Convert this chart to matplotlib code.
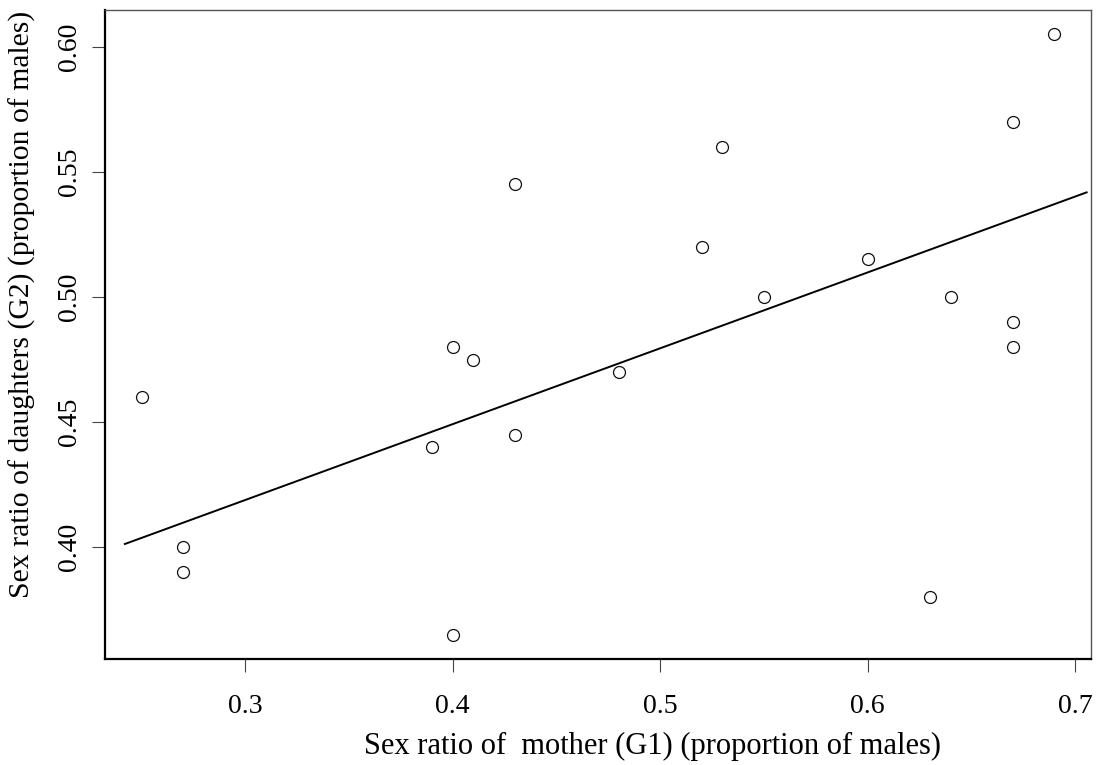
import matplotlib
matplotlib.use("Agg")
import matplotlib.pyplot as plt
import numpy as np

# values
mother_ratio = [0.25, 0.27, 0.27, 0.39, 0.40, 0.40, 0.41, 0.43, 0.43, 0.48,
                0.52, 0.53, 0.55, 0.60, 0.63, 0.64, 0.67, 0.67, 0.67, 0.69]
daughter_ratio = [0.46, 0.40, 0.39, 0.44, 0.48, 0.365, 0.475, 0.545, 0.445, 0.47,
                  0.52, 0.56, 0.50, 0.515, 0.38, 0.50, 0.57, 0.49, 0.48, 0.605]

# fitted line as drawn in the figure
fit_intercept = 0.328
fit_slope = 0.303
fit_range = [0.242, 0.7055]

x_ticks = [0.3, 0.4, 0.5, 0.6, 0.7]
y_ticks = [0.40, 0.45, 0.50, 0.55, 0.60]

plt.rcParams['font.family'] = ['Liberation Serif', 'DejaVu Serif']

fig = plt.figure(figsize=(10.97, 7.65), dpi=100)
ax = fig.add_axes([0.0957, 0.1386, 0.8988, 0.8483])

ax.plot(mother_ratio, daughter_ratio, 'o', ms=8.6, mfc='white', mec='#111111', mew=0.9)

fx = np.array(fit_range)
ax.plot(fx, fit_intercept + fit_slope * fx, color='black', lw=1.4)

# R-style 4% padding of the axis ranges
def padded(v):
    lo, hi = min(v), max(v)
    d = (hi - lo) * 0.04
    return lo - d, hi + d

ax.set_xlim(*padded(mother_ratio))
ax.set_ylim(*padded(daughter_ratio))

ax.set_xticks(x_ticks)
ax.set_xticklabels([f"{t:.1f}" for t in x_ticks])
ax.set_yticks(y_ticks)
ax.set_yticklabels([f"{t:.2f}" for t in y_ticks])

ax.tick_params(axis='both', direction='out', length=9.5, width=0.8, color='#444444',
               labelsize=20)
ax.tick_params(axis='x', pad=16)
ax.tick_params(axis='y', pad=7, labelrotation=90)
for lab in ax.get_yticklabels():
    lab.set_va('center')

for side in ['left', 'bottom']:
    ax.spines[side].set_linewidth(1.6)
    ax.spines[side].set_color('black')
for side in ['top', 'right']:
    ax.spines[side].set_linewidth(1.0)
    ax.spines[side].set_color('#555555')

fig.text(652 / 1097, 1 - 746 / 765, "Sex ratio of  mother (G1) (proportion of males)",
         ha='center', va='center', fontsize=22)
fig.text(22 / 1097, 1 - 304 / 765, "Sex ratio of daughters (G2) (proportion of males)",
         ha='center', va='center', rotation=90, fontsize=21.4)

fig.savefig("out.png", dpi=100)
